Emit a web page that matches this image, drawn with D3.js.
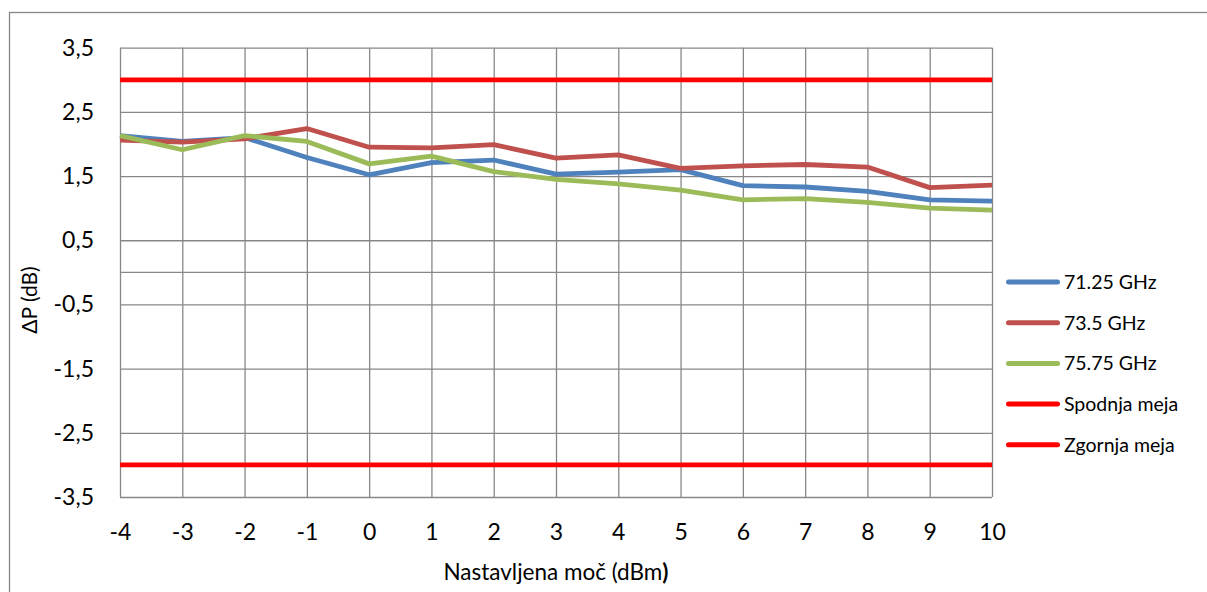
<!DOCTYPE html>
<html>
<head>
<meta charset="utf-8">
<script src="https://cdn.jsdelivr.net/npm/d3@7"></script>
<style>
  html, body { margin: 0; padding: 0; background: #fff; }
  svg { display: block; font-family: Lato, "Open Sans", sans-serif; }
</style>
</head>
<body>
<svg id="chart" width="1207" height="592"></svg>
<script>
// Set power levels (dBm)
const powers = [-4, -3, -2, -1, 0, 1, 2, 3, 4, 5, 6, 7, 8, 9, 10];

// Measured power deviation ΔP (dB) per frequency
const f7125 = [2.13, 2.04, 2.10, 1.79, 1.52, 1.71, 1.75, 1.53, 1.56, 1.60, 1.35, 1.33, 1.26, 1.13, 1.11];
const f735  = [2.06, 2.03, 2.08, 2.24, 1.95, 1.94, 1.99, 1.78, 1.83, 1.62, 1.66, 1.68, 1.64, 1.32, 1.36];
const f7575 = [2.13, 1.91, 2.13, 2.04, 1.69, 1.81, 1.57, 1.45, 1.38, 1.28, 1.13, 1.15, 1.09, 1.00, 0.97];

// Tolerance limits (dB)
const lowerLimit = [-3, -3, -3, -3, -3, -3, -3, -3, -3, -3, -3, -3, -3, -3, -3];
const upperLimit = [3, 3, 3, 3, 3, 3, 3, 3, 3, 3, 3, 3, 3, 3, 3];

const seriesNames = ["71.25 GHz", "73.5 GHz", "75.75 GHz", "Spodnja meja", "Zgornja meja"];
const seriesColors = ["#4F81BD", "#C0504D", "#9BBB59", "#FF0000", "#FF0000"];
const seriesValues = [f7125, f735, f7575, lowerLimit, upperLimit];

const yTicks = [3.5, 2.5, 1.5, 0.5, -0.5, -1.5, -2.5, -3.5];

const svg = d3.select("#chart");
const gridColor = "#878787";

// Outer chart frame
svg.append("rect")
  .attr("x", 9.5).attr("y", 12.5)
  .attr("width", 1220).attr("height", 600)
  .attr("fill", "none").attr("stroke", gridColor).attr("stroke-width", 1.3);

const x = d3.scaleLinear().domain([-4, 10]).range([120, 992]);
const y = d3.scaleLinear().domain([-3.5, 3.5]).range([497, 47.7]);

// Horizontal gridlines via axis ticks
const yAxis = d3.axisLeft(y)
  .tickValues(yTicks)
  .tickSize(-(x.range()[1] - x.range()[0]))
  .tickPadding(26)
  .tickFormat(d => d3.format(".1f")(d).replace(".", ",").replace("−", "-"));

const gy = svg.append("g")
  .attr("transform", `translate(${x.range()[0]},0)`)
  .call(yAxis)
  .attr("font-family", null)
  .attr("font-size", null);
gy.select(".domain").remove();
gy.selectAll(".tick line").attr("stroke", gridColor).attr("stroke-width", 1.3);
gy.selectAll(".tick text")
  .attr("fill", "#000").attr("font-size", 23);

// Vertical gridlines via bottom axis ticks
const xAxis = d3.axisBottom(x)
  .tickValues(powers)
  .tickSize(-(y.range()[0] - y.range()[1]))
  .tickPadding(27)
  .tickFormat(d => String(d));

const gx = svg.append("g")
  .attr("transform", `translate(0,${y.range()[0]})`)
  .call(xAxis)
  .attr("font-family", null)
  .attr("font-size", null);
gx.select(".domain").remove();
gx.selectAll(".tick line").attr("stroke", gridColor).attr("stroke-width", 1.3);
gx.selectAll(".tick text")
  .attr("fill", "#000").attr("font-size", 23);

// Horizontal category axis line at ΔP = 0
svg.append("line")
  .attr("x1", x(-4)).attr("x2", x(10))
  .attr("y1", y(0)).attr("y2", y(0))
  .attr("stroke", gridColor).attr("stroke-width", 1.3);

// Data series
const line = d3.line()
  .x((d, i) => x(powers[i]))
  .y(d => y(d));

seriesValues.forEach((vals, k) => {
  svg.append("path")
    .datum(vals)
    .attr("d", line)
    .attr("fill", "none")
    .attr("stroke", seriesColors[k])
    .attr("stroke-width", 4.8)
    .attr("stroke-linejoin", "round");
});

// Legend
const legend = svg.append("g").attr("transform", "translate(1006,282)");
seriesNames.forEach((name, k) => {
  const row = legend.append("g").attr("transform", `translate(0,${k * 40.7})`);
  row.append("line")
    .attr("x1", 2.5).attr("x2", 51.5)
    .attr("y1", 0).attr("y2", 0)
    .attr("stroke", seriesColors[k])
    .attr("stroke-width", 5)
    .attr("stroke-linecap", "round");
  row.append("text")
    .attr("x", 58).attr("y", 0)
    .attr("dy", "0.35em")
    .attr("font-size", 19.5)
    .attr("fill", "#000")
    .text(name);
});

// Axis titles
const xTitle = svg.append("text")
  .attr("x", (x.range()[0] + x.range()[1]) / 2)
  .attr("y", 580)
  .attr("text-anchor", "middle")
  .attr("font-size", 22.5)
  .attr("fill", "#000");
xTitle.append("tspan").text("Nastavljena moč (dBm");
xTitle.append("tspan").attr("font-weight", "bold").text(")");

svg.append("text")
  .attr("transform", "translate(37,300) rotate(-90)")
  .attr("text-anchor", "middle")
  .attr("font-size", 21)
  .attr("fill", "#000")
  .text("ΔP (dB)");
</script>
</body>
</html>
